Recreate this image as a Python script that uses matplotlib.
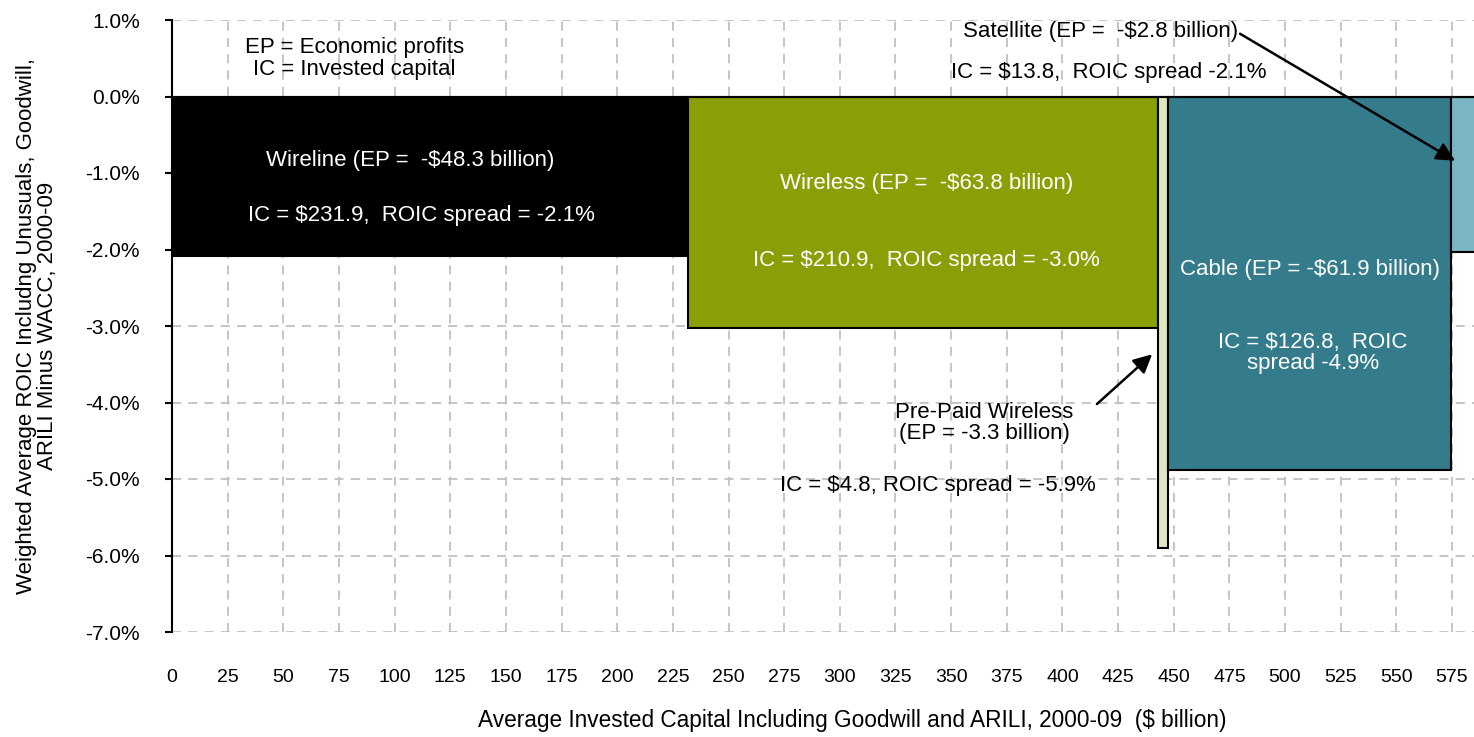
import matplotlib
matplotlib.use("Agg")
import matplotlib.pyplot as plt
import numpy as np
from matplotlib.ticker import FuncFormatter

plt.rcParams['font.family'] = ['Liberation Sans', 'DejaVu Sans']

segments = ["Wireline", "Wireless", "Pre-Paid Wireless", "Cable", "Satellite"]
invested_capital = [231.9, 210.9, 4.8, 126.8, 13.8]
roic_spread = [-2.08, -3.03, -5.9, -4.88, -2.03]
colors = ["#000000", "#8A9F05", "#E1E7C1", "#347B8B", "#7AB4C5"]

x_ticks = list(range(0, 576, 25))
y_ticks = [1, 0, -1, -2, -3, -4, -5, -6, -7]

W, H = 1474, 737
fig = plt.figure(figsize=(W / 100, H / 100), dpi=100)
total = sum(invested_capital)
x0px, x1px = 172, 172 + total * (1280 / 575)
ytop, ybot = 20, 632
ax = fig.add_axes([x0px / W, 1 - ybot / H, (x1px - x0px) / W, (ybot - ytop) / H])

lefts = np.concatenate([[0], np.cumsum(invested_capital)[:-1]])
ax.bar(lefts, roic_spread, width=invested_capital, align='edge', color=colors,
       edgecolor='black', linewidth=1.5, zorder=3)

ax.set_xlim(0, total)
ax.set_ylim(-7, 1)
ax.set_xticks(x_ticks)
ax.set_yticks(y_ticks)
ax.yaxis.set_major_formatter(FuncFormatter(lambda v, p: f"{v:.1f}%"))

ax.grid(True, color='#C0C0C0', linestyle=(0, (5, 4)), linewidth=1.3, zorder=0)
ax.set_axisbelow(True)

for s in ['right', 'bottom']:
    ax.spines[s].set_visible(False)
ax.spines['left'].set_linewidth(1.5)
ax.spines['top'].set_position(('data', 0))
ax.spines['top'].set_linewidth(1.5)
ax.spines['top'].set_zorder(4)

ax.tick_params(axis='y', direction='out', length=5, width=1.5, labelsize=15, pad=18)
ax.tick_params(axis='x', top=True, bottom=False, direction='in', length=5, width=1.2,
               labelsize=14, pad=27)

ax.set_xlabel("Average Invested Capital Including Goodwill and ARILI, 2000-09  ($ billion)",
              fontsize=16.3, labelpad=16)
ax.xaxis.label.set_x((852 - x0px) / (x1px - x0px))
ax.set_ylabel("Weighted Average ROIC Includng Unusuals, Goodwill,\nARILI Minus WACC, 2000-09",
              fontsize=16, labelpad=20, linespacing=0.95)

fs = 16
ax.text(82, 0.5, "EP = Economic profits\nIC = Invested capital", ha='center', va='center',
        fontsize=fs, linespacing=1.05, zorder=5)
ax.text(107, -0.84, "Wireline (EP =  -$48.3 billion)", ha='center', va='center',
        fontsize=fs, color='white', zorder=5)
ax.text(112, -1.55, "IC = $231.9,  ROIC spread = -2.1%", ha='center', va='center',
        fontsize=fs, color='white', zorder=5)
ax.text(339, -1.14, "Wireless (EP =  -$63.8 billion)", ha='center', va='center',
        fontsize=fs, color='white', zorder=5)
ax.text(339, -2.14, "IC = $210.9,  ROIC spread = -3.0%", ha='center', va='center',
        fontsize=fs, color='white', zorder=5)
ax.text(511, -2.26, "Cable (EP = -$61.9 billion)", ha='center', va='center',
        fontsize=fs, color='white', zorder=5)
ax.text(512.5, -3.35, "IC = $126.8,  ROIC\nspread -4.9%", ha='center', va='center',
        fontsize=fs, color='white', linespacing=1.0, zorder=5)
ax.text(364.8, -4.27, "Pre-Paid Wireless\n(EP = -3.3 billion)", ha='center', va='center',
        fontsize=fs, linespacing=1.0, zorder=5)
ax.text(344, -5.08, "IC = $4.8, ROIC spread = -5.9%", ha='center', va='center',
        fontsize=fs, zorder=5)
ax.text(417, 0.85, "Satellite (EP =  -$2.8 billion)", ha='center', va='center',
        fontsize=fs, zorder=5)
ax.text(421, 0.31, "IC = $13.8,  ROIC spread -2.1%", ha='center', va='center',
        fontsize=fs, zorder=5)

arrow = dict(arrowstyle='-|>', color='black', lw=1.8, mutation_scale=28, shrinkA=0, shrinkB=0)
ax.annotate("", xy=(440.3, -3.37), xytext=(415.5, -4.02), arrowprops=arrow, zorder=6)
ax.annotate("", xy=(576.4, -0.84), xytext=(479.8, 0.82), arrowprops=arrow, zorder=6)

fig.savefig("out.png", dpi=100)
